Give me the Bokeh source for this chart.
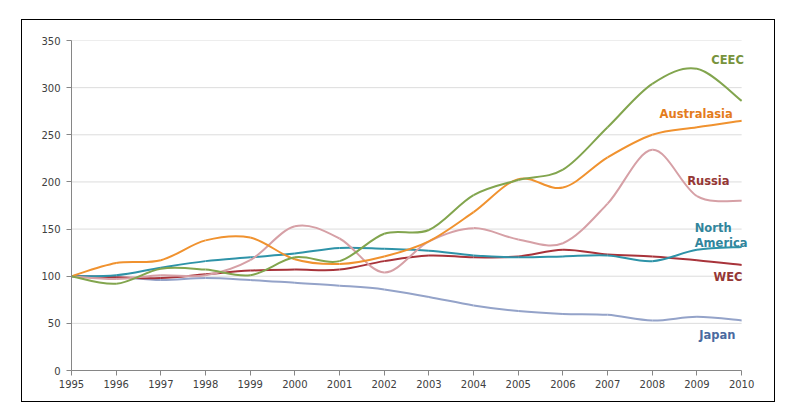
from bokeh.plotting import figure
from bokeh.models import Range1d, FixedTicker, Label
from bokeh.embed import file_html
from bokeh.resources import INLINE

years = list(range(1995, 2011))
y_ticks = [0, 50, 100, 150, 200, 250, 300, 350]

ceec = [100, 92, 108, 107, 101, 120, 116, 145, 149, 186, 202, 213, 258, 304, 320, 286]
australasia = [100, 114, 117, 138, 141, 118, 113, 121, 137, 168, 203, 194, 226, 250, 258, 265]
russia = [100, 97, 101, 101, 117, 153, 140, 104, 137, 151, 139, 135, 177, 234, 185, 180]
north_america = [100, 101, 109, 116, 120, 124, 130, 129, 127, 122, 120, 121, 122, 116, 128, 131]
wec = [100, 99, 98, 102, 106, 107, 107, 116, 122, 120, 121, 128, 123, 121, 117, 112]
japan = [100, 99, 96, 98, 96, 93, 90, 86, 78, 69, 63, 60, 59, 53, 57, 53]

series = [
    ("Japan", japan, "#94a3c9"),
    ("WEC", wec, "#a8333a"),
    ("North America", north_america, "#2e93a8"),
    ("Russia", russia, "#d6a0a6"),
    ("Australasia", australasia, "#f0922f"),
    ("CEEC", ceec, "#82a54e"),
]

x_first, x_last = years[0], years[-1]
x_pad = 0.4  # room on the right for the series labels

p = figure(width=752, height=381, x_range=Range1d(x_first, x_last + x_pad), y_range=Range1d(0, 350),
           output_backend="svg", toolbar_location=None,
           min_border_left=49, min_border_right=15, min_border_top=20, min_border_bottom=31)
p.margin = (20, 0, 0, 22)
p.styles = {"outline": "1px solid #000000"}
p.outline_line_color = None
p.background_fill_color = "white"
p.border_fill_color = "white"

for ax, ticks in ((p.xaxis[0], years), (p.yaxis[0], y_ticks)):
    ax.ticker = FixedTicker(ticks=ticks)
    ax.axis_line_color = "#868686"
    ax.major_tick_line_color = "#868686"
    ax.major_tick_out = 5
    ax.major_tick_in = 0
    ax.minor_tick_out = 0
    ax.minor_tick_in = 0
    ax.major_label_text_font = "DejaVu Sans"
    ax.major_label_text_font_size = "10px"
    ax.major_label_text_color = "#404040"
p.xaxis.bounds = (x_first, x_last)
p.xaxis.major_label_standoff = 4
p.yaxis.major_label_standoff = 6

p.xgrid.grid_line_color = None
p.ygrid.grid_line_color = None

# horizontal gridlines, limited to the axis span
grid_y = y_ticks[1:]
p.segment(x0=[x_first] * len(grid_y), x1=[x_last] * len(grid_y), y0=grid_y, y1=grid_y,
          line_color="#dcdcdc", line_width=1, level="underlay")


def smooth_segments(xs, ys):
    n = len(xs)
    out = {k: [] for k in ("x0", "y0", "x1", "y1", "cx0", "cy0", "cx1", "cy1")}
    for i in range(n - 1):
        xa, ya = xs[max(i - 1, 0)], ys[max(i - 1, 0)]
        xb, yb = xs[i], ys[i]
        xc, yc = xs[i + 1], ys[i + 1]
        xd, yd = xs[min(i + 2, n - 1)], ys[min(i + 2, n - 1)]
        out["x0"].append(xb); out["y0"].append(yb)
        out["x1"].append(xc); out["y1"].append(yc)
        out["cx0"].append(xb + (xc - xa) / 6); out["cy0"].append(yb + (yc - ya) / 6)
        out["cx1"].append(xc - (xd - xb) / 6); out["cy1"].append(yc - (yd - yb) / 6)
    return out


for name, vals, color in series:
    seg = smooth_segments(years, vals)
    p.bezier(line_color=color, line_width=2, **seg)

labels = [
    ("CEEC", 2010.05, 329, "right", "#77933c"),
    ("Australasia", 2009.8, 272, "right", "#e47c1c"),
    ("Russia", 2009.73, 201, "right", "#953735"),
    ("North", 2008.95, 151, "left", "#31859c"),
    ("America", 2008.95, 135, "left", "#31859c"),
    ("WEC", 2010.02, 99, "right", "#953735"),
    ("Japan", 2009.86, 38, "right", "#4a6aa0"),
]
for txt, lx, ly, align, col in labels:
    p.add_layout(Label(x=lx, y=ly, text=txt, text_align=align, text_baseline="middle",
                       text_font="DejaVu Sans", text_font_style="bold",
                       text_font_size="11.5px", text_color=col))

open("out.html", "w").write(file_html(p, INLINE))
